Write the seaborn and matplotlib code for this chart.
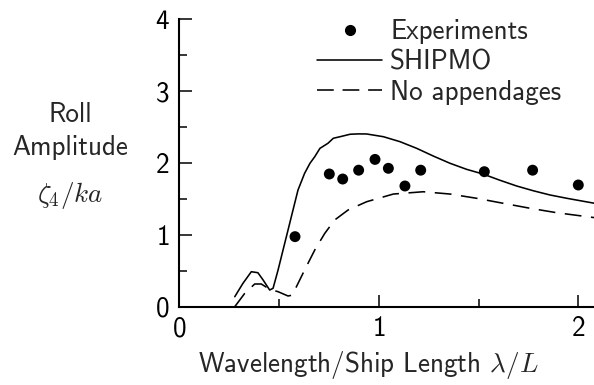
import numpy as np
import pandas as pd
import matplotlib
matplotlib.use("Agg")
import matplotlib.pyplot as plt
import seaborn as sns
from matplotlib.lines import Line2D
from matplotlib.legend_handler import HandlerLine2D
from matplotlib.ticker import MultipleLocator

# ---- data ----
exp_x = [0.58, 0.752, 0.819, 0.899, 0.981, 1.048, 1.131, 1.21, 1.529, 1.771, 2.0]
exp_y = [0.975, 1.847, 1.777, 1.90, 2.05, 1.926, 1.68, 1.90, 1.879, 1.90, 1.694]

shipmo_x = [0.278, 0.319, 0.361, 0.394, 0.42, 0.453, 0.47, 0.495, 0.52, 0.545,
            0.570, 0.595, 0.628, 0.655, 0.679, 0.705, 0.745, 0.772, 0.812, 0.856,
            0.897, 0.939, 1.023, 1.106, 1.19, 1.273, 1.357, 1.44, 1.524, 1.607,
            1.691, 1.774, 1.858, 1.942, 2.08]
shipmo_y = [0.139, 0.325, 0.487, 0.473, 0.372, 0.232, 0.256, 0.51, 0.789, 1.067,
            1.346, 1.624, 1.856, 1.996, 2.088, 2.204, 2.274, 2.344, 2.37, 2.40,
            2.405, 2.404, 2.366, 2.297, 2.204, 2.097, 1.996, 1.912, 1.845, 1.76,
            1.68, 1.614, 1.555, 1.509, 1.44]

noapp_x = [0.278, 0.328, 0.378, 0.411, 0.453, 0.495, 0.545, 0.565, 0.587, 0.628,
           0.679, 0.729, 0.779, 0.846, 0.939, 1.073, 1.223, 1.357, 1.49, 1.624,
           1.758, 1.892, 2.08]
noapp_y = [0.0, 0.186, 0.316, 0.316, 0.242, 0.209, 0.149, 0.16, 0.278, 0.51,
           0.789, 1.02, 1.207, 1.346, 1.461, 1.568, 1.60, 1.568, 1.509, 1.439,
           1.37, 1.308, 1.24]

labels = ["Experiments", "SHIPMO", "No appendages"]
xlabel = r"Wavelength/Ship Length $\lambda/L$"
ylabel_lines = ["Roll", "Amplitude", r"$\zeta_4/ka$"]

# ---- style ----
sns.set_theme(style="ticks")
plt.rcParams["font.family"] = ["cmss10", "DejaVu Sans"]
plt.rcParams["mathtext.fontset"] = "cm"
plt.rcParams["axes.formatter.use_mathtext"] = True
FS = 19.5

fig = plt.figure(figsize=(5.94, 3.85), dpi=100)
W, H = 594, 385
ax = fig.add_axes([179.3 / W, (H - 306.7) / H, 1 - 179.3 / W, (306.7 - 19.3) / H])

df_exp = pd.DataFrame({"x": exp_x, "y": exp_y})
df_s = pd.DataFrame({"x": shipmo_x, "y": shipmo_y})
df_n = pd.DataFrame({"x": noapp_x, "y": noapp_y})

lw = 1.15
dash = (0, (10.5, 6))
sns.lineplot(data=df_s, x="x", y="y", ax=ax, color="black", linewidth=lw, sort=False)
sns.lineplot(data=df_n, x="x", y="y", ax=ax, color="black", linewidth=lw, sort=False,
             linestyle=dash)
sns.scatterplot(data=df_exp, x="x", y="y", ax=ax, color="black", s=62, edgecolor="none")

ax.set_xlim(0, (W - 179.3) / 199.5)
ax.set_ylim(0, 4)
ax.xaxis.set_major_locator(MultipleLocator(1))
ax.xaxis.set_minor_locator(MultipleLocator(0.5))
ax.yaxis.set_major_locator(MultipleLocator(1))
ax.yaxis.set_minor_locator(MultipleLocator(0.5))
ax.tick_params(which="major", direction="in", length=9, width=1.1, labelsize=FS,
               color="black", labelcolor="black")
ax.tick_params(which="minor", direction="in", length=5.5, width=1.1, color="black")
ax.tick_params(axis="x", which="major", pad=7)
ax.tick_params(axis="y", which="major", pad=7)
for s in ["top", "right"]:
    ax.spines[s].set_visible(False)
for s in ["left", "bottom"]:
    ax.spines[s].set_linewidth(1.5)
    ax.spines[s].set_color("black")
ax.set_xlabel("")
ax.set_ylabel("")

fig.text(368 / W, 1 - 372 / H, xlabel, ha="center", va="baseline", fontsize=FS)
for txt, yy in zip(ylabel_lines, [114, 147, 196]):
    fig.text(70 / W, 1 - yy / H, txt, ha="center", va="center", fontsize=FS)


class RightDot(HandlerLine2D):
    def get_xdata(self, legend, xdescent, ydescent, width, height, fontsize):
        xdata = np.array([-xdescent, -xdescent + width], float)
        return xdata, np.array([-xdescent + 0.9 * width])


h_exp = Line2D([], [], linestyle="none", marker="o", color="black", markersize=7)
h_s = Line2D([], [], color="black", linewidth=lw)
h_n = Line2D([], [], color="black", linewidth=lw, linestyle=(0, (10.5, 5.5)))
leg = ax.legend([h_exp, h_s, h_n], labels, loc="upper left",
                bbox_to_anchor=(317 / W, 1 - 19 / H), bbox_transform=fig.transFigure,
                frameon=False, fontsize=FS, handlelength=65 / (FS * 100 / 72),
                handletextpad=0.3, borderpad=0, borderaxespad=0, labelspacing=0.2,
                handler_map={h_exp: RightDot(numpoints=1)})

fig.savefig("out.png", dpi=100)
